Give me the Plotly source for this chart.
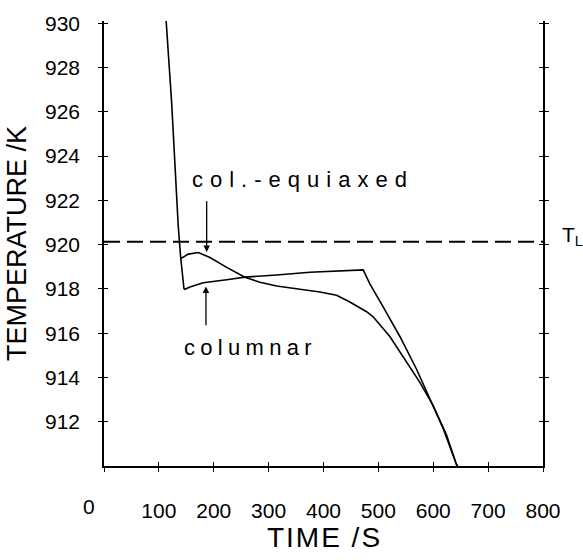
import plotly.graph_objects as go

# ---- data ----
descent_time = [113.0, 123.3, 135.3, 139.7]
descent_temp = [930.2, 926.4, 920.83, 919.42]

columnar_time = [145.7, 147.5, 156.6, 180.9, 223.5, 256.8, 314.6, 375.2, 472.3,
                 484.5, 508.7, 539.2, 569.6, 593.8, 618.0, 642.4, 644.7]
columnar_temp = [918.01, 917.98, 918.08, 918.28, 918.41, 918.53, 918.63, 918.75, 918.86,
                 918.23, 917.19, 915.85, 914.37, 913.03, 911.70, 910.06, 910.0]

equiaxed_time = [139.7, 142.1, 153.6, 171.8, 193.1, 223.5, 256.8, 284.2, 314.6, 357.0,
                 393.4, 423.9, 448.1, 478.5, 490.5, 520.9, 551.4, 575.6, 599.8, 624.2,
                 642.4, 644.7]
equiaxed_temp = [919.42, 919.40, 919.57, 919.64, 919.42, 918.97, 918.53, 918.30, 918.13, 917.98,
                 917.86, 917.71, 917.41, 916.97, 916.74, 915.85, 914.67, 913.78, 912.73, 911.40,
                 910.06, 910.0]

liquidus_temp = 920.13

x_ticks = [0, 100, 200, 300, 400, 500, 600, 700, 800]
x_ticktext = ["", "100", "200", "300", "400", "500", "600", "700", "800"]
y_ticks = [912, 914, 916, 918, 920, 922, 924, 926, 928, 930]

X_RANGE = [0, 800]
Y_RANGE = [910, 930.1]

FONT = "Liberation Sans, Arial, sans-serif"
LINE = dict(color="black", width=1.6)

fig = go.Figure()
fig.add_trace(go.Scatter(x=descent_time + columnar_time, y=descent_temp + columnar_temp,
                         mode="lines", line=LINE, name="columnar", hoverinfo="skip"))
fig.add_trace(go.Scatter(x=equiaxed_time, y=equiaxed_temp,
                         mode="lines", line=LINE, name="col.-equiaxed", hoverinfo="skip"))
# empty traces so that the tick-only overlay axes get drawn
for xa, ya in [("x2", "y"), ("x", "y2"), ("x", "y3"), ("x", "y4")]:
    fig.add_trace(go.Scatter(x=[], y=[], xaxis=xa, yaxis=ya, mode="lines",
                             hoverinfo="skip", showlegend=False))

fig.add_shape(type="line", xref="x", yref="y", x0=X_RANGE[0], x1=X_RANGE[1],
              y0=liquidus_temp, y1=liquidus_temp,
              line=dict(color="black", width=2, dash="16px,7px"))

tickfont = dict(family=FONT, size=21, color="black")
tick_common = dict(tickmode="array", ticklen=4, tickwidth=1.3, tickcolor="black",
                   showgrid=False, zeroline=False)
fig.update_layout(
    width=583, height=560,
    margin=dict(l=104, r=40, t=17, b=92),
    paper_bgcolor="white", plot_bgcolor="white",
    showlegend=False,
    xaxis=dict(range=X_RANGE, tickvals=x_ticks, ticktext=x_ticktext,
               showline=True, linecolor="black", linewidth=1.5, ticks="outside",
               tickfont=tickfont, ticklabelstandoff=21,
               title=dict(text="TIME /S", font=dict(family=FONT, size=28, color="black"), standoff=6),
               **tick_common),
    xaxis2=dict(range=X_RANGE, overlaying="x", anchor="y", side="bottom",
                tickvals=x_ticks, ticks="inside", showticklabels=False, showline=False,
                **tick_common),
    yaxis=dict(range=Y_RANGE, tickvals=y_ticks,
               showline=True, linecolor="black", linewidth=1.5,
               ticks="outside", tickfont=tickfont, ticklabelstandoff=14,
               title=dict(text="TEMPERATURE /K", font=dict(family=FONT, size=27, color="black"), standoff=11),
               **tick_common),
    yaxis2=dict(range=Y_RANGE, overlaying="y", anchor="x", side="left",
                tickvals=y_ticks, ticks="inside", showticklabels=False, showline=False,
                **tick_common),
    yaxis3=dict(range=Y_RANGE, overlaying="y", anchor="x", side="right",
                tickvals=y_ticks, ticks="outside", showticklabels=False,
                showline=True, linecolor="black", linewidth=1.5, **tick_common),
    yaxis4=dict(range=Y_RANGE, overlaying="y", anchor="x", side="right",
                tickvals=y_ticks, ticks="inside", showticklabels=False, showline=False,
                **tick_common),
)

labfont = dict(family=FONT, size=22, color="black")
fig.add_annotation(x=156.6, y=922.93, xref="x", yref="y", text="col.-equiaxed", showarrow=False,
                   xanchor="left", yanchor="middle", font=labfont)
fig.add_annotation(x=141.5, y=915.35, xref="x", yref="y", text="columnar", showarrow=False,
                   xanchor="left", yanchor="middle", font=labfont)
# arrows
fig.add_annotation(x=187.1, y=919.67, ax=187.1, ay=922.03, xref="x", yref="y", axref="x", ayref="y",
                   text="", showarrow=True, arrowhead=2, arrowsize=1, arrowwidth=1.3, arrowcolor="black")
fig.add_annotation(x=185.8, y=918.11, ax=185.8, ay=916.29, xref="x", yref="y", axref="x", ayref="y",
                   text="", showarrow=True, arrowhead=2, arrowsize=1, arrowwidth=1.3, arrowcolor="black")
# zero label on time axis (offset to the left as in the original)
fig.add_annotation(x=-0.034, y=0, xref="paper", yref="paper", text="0", showarrow=False,
                   xanchor="center", yanchor="top", yshift=-27, font=tickfont)
# liquidus label
fig.add_annotation(x=1.038, y=liquidus_temp, xref="paper", yref="y", text="T<sub>L</sub>",
                   showarrow=False, xanchor="left", yanchor="middle", yshift=6,
                   font=dict(family=FONT, size=21, color="black"))

post = """
var gd = document.getElementById('{plot_id}');
var spacing = {'col.-equiaxed': 7, 'columnar': 5.3};
gd.querySelectorAll('.annotation-text').forEach(function(t){
  var s = t.textContent;
  if (spacing[s] !== undefined) {
    var bb = t.getBBox();
    t.setAttribute('text-anchor', 'start');
    t.setAttribute('x', bb.x);
    t.style.letterSpacing = spacing[s] + 'px';
  }
});
gd.querySelectorAll('.xtitle').forEach(function(t){
  var bb = t.getBBox();
  t.setAttribute('text-anchor', 'start');
  t.setAttribute('x', bb.x - 6);
  t.style.letterSpacing = '2px';
});
"""
fig.write_html("out.html", post_script=post)
